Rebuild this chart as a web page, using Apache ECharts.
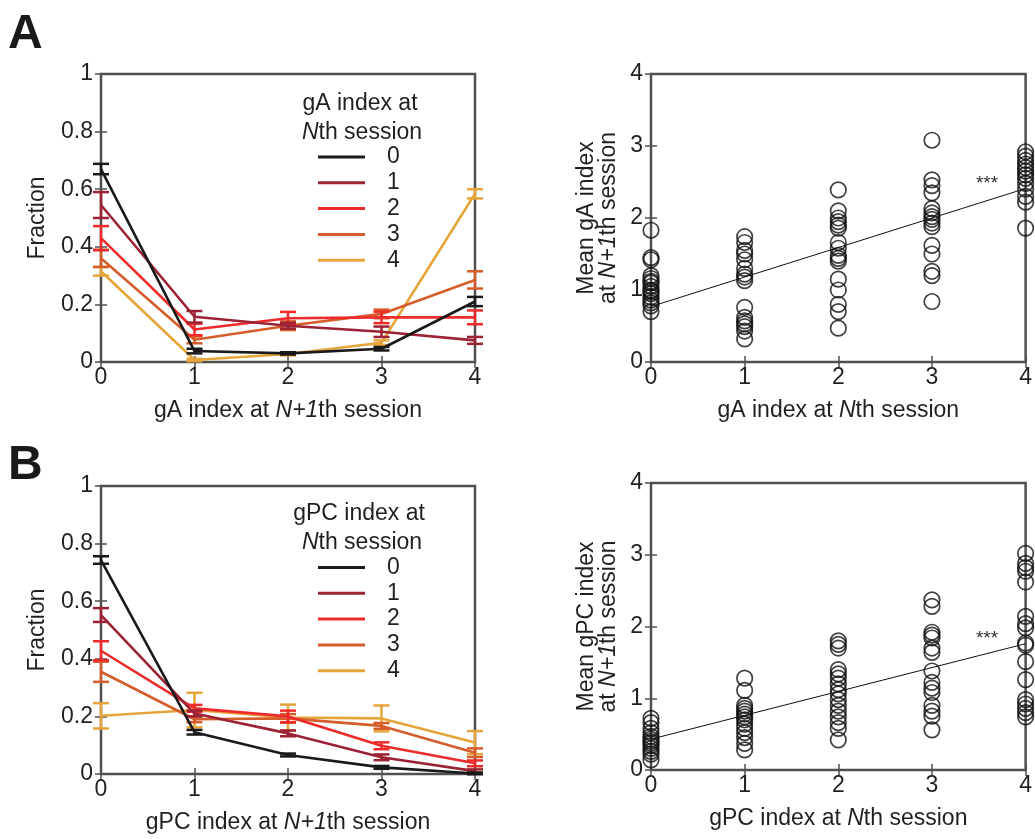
<!DOCTYPE html>
<html><head><meta charset="utf-8">
<script src="https://cdn.jsdelivr.net/npm/echarts@6/dist/echarts.min.js"></script>
<style>html,body{margin:0;padding:0;background:#fff}#chart{width:1035px;height:839px}</style>
</head><body><div id="chart"></div>
<script>
// ---------- data ----------
const sessions = [0, 1, 2, 3, 4];
const legendNames = ['0', '1', '2', '3', '4'];

// Panel A left: fraction of gA index at N+1th session, per gA index at Nth session
const gaLine0 = [0.67, 0.038, 0.03, 0.046, 0.21];
const gaErr0  = [0.018, 0.008, 0.004, 0.006, 0.016];
const gaLine1 = [0.545, 0.157, 0.126, 0.105, 0.075];
const gaErr1  = [0.045, 0.02, 0.01, 0.018, 0.012];
const gaLine2 = [0.43, 0.113, 0.152, 0.155, 0.155];
const gaErr2  = [0.042, 0.02, 0.022, 0.02, 0.024];
const gaLine3 = [0.36, 0.077, 0.126, 0.167, 0.285];
const gaErr3  = [0.03, 0.012, 0.015, 0.015, 0.03];
const gaLine4 = [0.315, 0.007, 0.028, 0.067, 0.584];
const gaErr4  = [0.015, 0.004, 0.005, 0.008, 0.016];

// Panel B left
const gpcLine0 = [0.743, 0.145, 0.066, 0.023, 0.002];
const gpcErr0  = [0.013, 0.008, 0.005, 0.005, 0.003];
const gpcLine1 = [0.552, 0.21, 0.141, 0.058, 0.01];
const gpcErr1  = [0.024, 0.01, 0.01, 0.01, 0.006];
const gpcLine2 = [0.428, 0.228, 0.2, 0.098, 0.037];
const gpcErr2  = [0.033, 0.012, 0.02, 0.012, 0.01];
const gpcLine3 = [0.355, 0.19, 0.193, 0.167, 0.074];
const gpcErr3  = [0.035, 0.01, 0.015, 0.01, 0.015];
const gpcLine4 = [0.202, 0.222, 0.196, 0.193, 0.109];
const gpcErr4  = [0.044, 0.06, 0.045, 0.045, 0.04];

// Panel A right: mean gA index at N+1th session, grouped by gA index at Nth session
const gaMeanAt0 = [1.83, 1.45, 1.42, 1.2, 1.16, 1.12, 1.1, 1.05, 1.0, 0.98, 0.95, 0.9, 0.86, 0.82, 0.78, 0.7];
const gaMeanAt1 = [1.74, 1.66, 1.55, 1.5, 1.42, 1.3, 1.22, 1.18, 1.13, 0.76, 0.62, 0.57, 0.53, 0.49, 0.43, 0.32];
const gaMeanAt2 = [2.39, 2.1, 2.0, 1.95, 1.9, 1.86, 1.66, 1.58, 1.48, 1.44, 1.4, 1.15, 1.0, 0.8, 0.7, 0.47];
const gaMeanAt3 = [3.08, 2.53, 2.45, 2.35, 2.13, 2.07, 2.02, 1.98, 1.93, 1.88, 1.62, 1.5, 1.26, 1.2, 0.84];
const gaMeanAt4 = [2.92, 2.86, 2.8, 2.75, 2.7, 2.65, 2.6, 2.55, 2.48, 2.4, 2.3, 2.22, 1.86];
const gaFit = [0.77, 2.41]; // fitted value at x=0 and x=4

// Panel B right
const gpcMeanAt0 = [0.72, 0.66, 0.58, 0.52, 0.47, 0.43, 0.4, 0.37, 0.34, 0.3, 0.26, 0.22, 0.14];
const gpcMeanAt1 = [1.28, 1.11, 0.9, 0.86, 0.82, 0.78, 0.74, 0.7, 0.64, 0.58, 0.52, 0.45, 0.37, 0.28];
const gpcMeanAt2 = [1.8, 1.75, 1.7, 1.4, 1.34, 1.28, 1.2, 1.12, 1.06, 0.98, 0.9, 0.82, 0.74, 0.66, 0.58, 0.42];
const gpcMeanAt3 = [2.37, 2.28, 1.92, 1.88, 1.84, 1.7, 1.64, 1.38, 1.22, 1.14, 1.08, 0.9, 0.82, 0.75, 0.56];
const gpcMeanAt4 = [3.02, 2.88, 2.82, 2.77, 2.62, 2.14, 2.04, 1.98, 1.77, 1.74, 1.51, 1.26, 0.98, 0.92, 0.86, 0.8, 0.74];
const gpcFit = [0.43, 1.76];

// ---------- styles ----------
const FONT = '"Liberation Sans", Arial, Helvetica, sans-serif';
const TXT = '#231f20';
const FRAME = '#505050';
const colors = ['#1a1a1a', '#9b2335', '#ee2b2b', '#d55d2b', '#e6a53a'];
const FS = 23;

const chart = echarts.init(document.getElementById('chart'), null, {renderer: 'canvas'});

const grids = [
  {left: 101, top: 74, width: 374, height: 288},
  {left: 651, top: 74, width: 377, height: 288},
  {left: 101, top: 486, width: 374, height: 288},
  {left: 651, top: 483, width: 377, height: 287}
].map(g => Object.assign(g, {show: true, borderColor: FRAME, borderWidth: 2.5, backgroundColor: 'transparent', containLabel: false}));

const richI = {i: {fontStyle: 'italic', fontSize: FS, fontFamily: FONT, color: TXT}};
const nameStyle = {fontSize: FS, fontFamily: FONT, color: TXT, lineHeight: 22, rich: richI};
const tickStyle = {show: true, inside: true, length: 6, lineStyle: {color: FRAME, width: 1.5}};

function xMain(gi, name) {
  return {type: 'value', gridIndex: gi, position: 'bottom', min: 0, max: 4, interval: 1,
    axisLine: {show: false}, axisTick: tickStyle, splitLine: {show: false},
    axisLabel: {fontSize: FS, fontFamily: FONT, color: TXT, margin: 4},
    name: name, nameLocation: 'middle', nameGap: 38, nameTextStyle: nameStyle};
}
function xTop(gi) {
  return {type: 'value', gridIndex: gi, position: 'top', min: 0, max: 4, interval: 1,
    axisLine: {show: false}, axisTick: tickStyle, splitLine: {show: false}, axisLabel: {show: false}};
}
function yMain(gi, max, interval, name, gap) {
  return {type: 'value', gridIndex: gi, position: 'left', min: 0, max: max, interval: interval,
    axisLine: {show: false}, axisTick: tickStyle, splitLine: {show: false},
    axisLabel: {fontSize: FS, fontFamily: FONT, color: TXT, margin: 8},
    name: name, nameLocation: 'middle', nameRotate: 90, nameGap: gap, nameTextStyle: nameStyle};
}
function yRight(gi, max, interval) {
  return {type: 'value', gridIndex: gi, position: 'right', min: 0, max: max, interval: interval,
    axisLine: {show: false}, axisTick: tickStyle, splitLine: {show: false}, axisLabel: {show: false}};
}

const xAxes = [
  xMain(0, 'gA index at {i|N+1}th session'),
  xMain(1, 'gA index at {i|N}th session'),
  xMain(2, 'gPC index at {i|N+1}th session'),
  xMain(3, 'gPC index at {i|N}th session'),
  xTop(0), xTop(1), xTop(2), xTop(3)
];
const yAxes = [
  yMain(0, 1, 0.2, 'Fraction', 52),
  yMain(1, 4, 1, 'Mean gA index\nat {i|N+1}th session', 31),
  yMain(2, 1, 0.2, 'Fraction', 52),
  yMain(3, 4, 1, 'Mean gPC index\nat {i|N+1}th session', 31),
  yRight(0, 1, 0.2), yRight(1, 4, 1), yRight(2, 1, 0.2), yRight(3, 4, 1)
];

function errRender(color) {
  return function (params, api) {
    const x = api.value(0), m = api.value(1), e = api.value(2);
    const pt = api.coord([x, m + e]);
    const pb = api.coord([x, m - e]);
    const hw = 8;
    const st = {stroke: color, lineWidth: 2.5};
    return {type: 'group', children: [
      {type: 'line', shape: {x1: pt[0], y1: pt[1], x2: pb[0], y2: pb[1]}, style: st},
      {type: 'line', shape: {x1: pt[0] - hw, y1: pt[1], x2: pt[0] + hw, y2: pt[1]}, style: st},
      {type: 'line', shape: {x1: pb[0] - hw, y1: pb[1], x2: pb[0] + hw, y2: pb[1]}, style: st}
    ]};
  };
}

const series = [];
function addFraction(gi, lines, errs) {
  for (let k = lines.length - 1; k >= 0; k--) {
    const lineData = sessions.map((s, j) => [s, lines[k][j]]);
    const errData = sessions.map((s, j) => [s, lines[k][j], errs[k][j]]);
    series.push({type: 'line', name: legendNames[k], xAxisIndex: gi, yAxisIndex: gi,
      data: lineData, symbol: 'none', color: colors[k],
      lineStyle: {color: colors[k], width: 2.6}, z: 3 + (4 - k) * 0.1, clip: false, animation: false});
    series.push({type: 'custom', xAxisIndex: gi, yAxisIndex: gi, data: errData,
      renderItem: errRender(colors[k]), z: 3 + (4 - k) * 0.1, clip: false, animation: false});
  }
}
addFraction(0, [gaLine0, gaLine1, gaLine2, gaLine3, gaLine4], [gaErr0, gaErr1, gaErr2, gaErr3, gaErr4]);
addFraction(2, [gpcLine0, gpcLine1, gpcLine2, gpcLine3, gpcLine4], [gpcErr0, gpcErr1, gpcErr2, gpcErr3, gpcErr4]);

function addScatter(gi, groups, fit) {
  const pts = [];
  groups.forEach((g, idx) => g.forEach(v => pts.push([sessions[idx], v])));
  series.push({type: 'scatter', xAxisIndex: gi, yAxisIndex: gi, data: pts, symbol: 'circle', symbolSize: 15.5,
    itemStyle: {color: 'rgba(0,0,0,0)', borderColor: '#111', borderWidth: 1.7}, clip: false, animation: false, z: 3});
  series.push({type: 'line', xAxisIndex: gi, yAxisIndex: gi,
    data: [[sessions[0], fit[0]], [sessions[sessions.length - 1], fit[1]]], symbol: 'none',
    lineStyle: {color: '#111', width: 1}, clip: false, animation: false, z: 4});
}
addScatter(1, [gaMeanAt0, gaMeanAt1, gaMeanAt2, gaMeanAt3, gaMeanAt4], gaFit);
addScatter(3, [gpcMeanAt0, gpcMeanAt1, gpcMeanAt2, gpcMeanAt3, gpcMeanAt4], gpcFit);

function legendAt(top) {
  return {data: legendNames, orient: 'vertical', left: 318, top: top, itemWidth: 47, itemHeight: 3,
    icon: 'rect', itemGap: 2.8, padding: 0, selectedMode: false,
    textStyle: {fontSize: FS, fontFamily: FONT, color: TXT, lineHeight: 23, padding: [0, 0, 0, 17]}};
}

function txt(x, y, text, opts) {
  return {type: 'text', x: x, y: y, silent: true, z: 10, style: Object.assign({
    text: text, fill: TXT, fontSize: FS, fontFamily: FONT, align: 'center', verticalAlign: 'middle',
    rich: {i: {fontStyle: 'italic', fontSize: FS, fontFamily: FONT, fill: TXT}}}, opts || {})};
}

const graphic = [
  txt(8, 35, 'A', {fontSize: 48, fontWeight: 'bold', align: 'left', fill: '#1a1a1a'}),
  txt(8, 466, 'B', {fontSize: 48, fontWeight: 'bold', align: 'left', fill: '#1a1a1a'}),
  txt(360, 104, 'gA index at'),
  txt(362, 133, '{i|N}th session'),
  txt(359, 514, 'gPC index at'),
  txt(362, 543, '{i|N}th session'),
  txt(987, 184, '***', {fontSize: 19, fill: '#333'}),
  txt(987, 639, '***', {fontSize: 19, fill: '#333'})
];

chart.setOption({
  animation: false,
  backgroundColor: '#fff',
  textStyle: {fontFamily: FONT},
  grid: grids,
  xAxis: xAxes,
  yAxis: yAxes,
  legend: [legendAt(145.5), legendAt(556)],
  series: series,
  graphic: graphic
});
</script></body></html>
